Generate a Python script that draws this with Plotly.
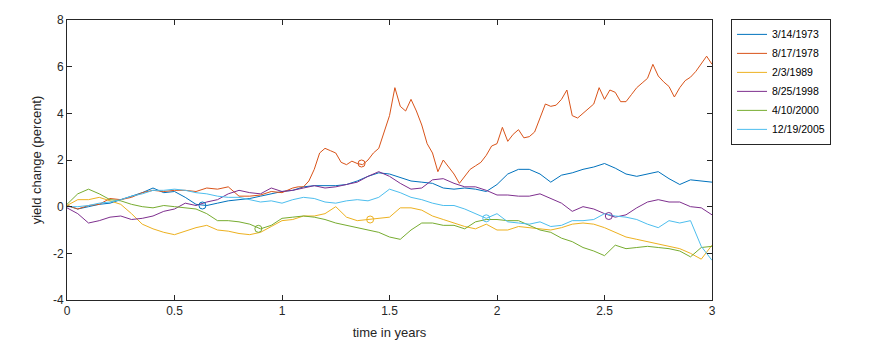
import plotly.graph_objects as go

# time grid (years)
t = [round(0.05 * i, 3) for i in range(61)]
t_1978 = [round(0.05 * i, 3) for i in range(21)] + [round(1 + 0.025 * i, 3) for i in range(1, 81)]

names = ["3/14/1973", "8/17/1978", "2/3/1989", "8/25/1998", "4/10/2000", "12/19/2005"]
colors = ["#0072BD", "#D95319", "#EDB120", "#7E2F8E", "#77AC30", "#4DBEEE"]

y_1973 = [0.05, -0.1, 0.0, 0.1, 0.15, 0.3, 0.45, 0.6, 0.8, 0.6, 0.65,
          0.4, 0.1, 0.05, 0.15, 0.25, 0.3, 0.35, 0.45, 0.55, 0.65,
          0.7, 0.85, 0.9, 0.9, 0.9, 0.95, 1.1, 1.3, 1.45, 1.4,
          1.25, 1.1, 1.05, 1.0, 0.8, 0.75, 0.8, 0.75, 0.65, 0.95,
          1.4, 1.6, 1.6, 1.4, 1.05, 1.35, 1.45, 1.6, 1.7, 1.85,
          1.65, 1.4, 1.3, 1.4, 1.5, 1.2, 0.95, 1.15, 1.1, 1.05]
y_1978 = [0.05, -0.1, 0.05, 0.1, 0.35, 0.3, 0.4, 0.6, 0.7, 0.65, 0.7,
          0.7, 0.65, 0.8, 0.75, 0.85, 0.45, 0.45, 0.5, 0.65, 0.6,
          0.7, 0.8, 0.85, 0.85, 1.1, 1.6, 2.3, 2.5, 2.4, 2.3,
          1.9, 1.8, 1.95, 1.85, 1.8, 2.0, 2.3, 2.5, 3.2, 3.9,
          5.1, 4.3, 4.1, 4.6, 4.1, 3.5, 2.7, 2.3, 1.5, 2.0,
          1.7, 1.4, 1.0, 1.3, 1.6, 1.75, 1.9, 2.2, 2.6, 2.7,
          3.4, 2.8, 3.1, 3.3, 2.95, 3.0, 3.2, 3.8, 4.4, 4.3,
          4.35, 4.6, 5.0, 3.9, 3.8, 4.0, 4.2, 4.4, 5.1, 4.6,
          5.0, 4.9, 4.5, 4.5, 4.8, 5.1, 5.3, 5.5, 6.1, 5.6,
          5.35, 5.15, 4.7, 5.1, 5.4, 5.55, 5.8, 6.1, 6.45, 6.1]
y_1989 = [0.05, 0.3, 0.3, 0.4, 0.25, 0.1, -0.3, -0.75, -0.95, -1.1, -1.2,
          -1.05, -0.9, -0.8, -1.0, -1.05, -1.15, -1.2, -1.1, -0.85, -0.6,
          -0.55, -0.4, -0.4, -0.3, 0.0, -0.45, -0.6, -0.55, -0.5, -0.45,
          -0.05, -0.05, -0.15, -0.4, -0.55, -0.7, -0.85, -0.95, -0.75, -1.0,
          -1.0, -0.85, -0.9, -0.95, -1.0, -0.9, -0.75, -0.7, -0.75, -0.9,
          -1.1, -1.3, -1.4, -1.5, -1.6, -1.7, -1.8, -2.0, -2.25, -1.65]
y_1998 = [-0.05, -0.3, -0.7, -0.6, -0.45, -0.4, -0.55, -0.5, -0.4, -0.2, -0.1,
          0.15, 0.05, 0.2, 0.3, 0.55, 0.7, 0.6, 0.55, 0.8, 0.65,
          0.7, 0.8, 0.9, 0.8, 0.85, 0.95, 1.05, 1.3, 1.5, 1.3,
          1.0, 0.75, 0.8, 1.15, 1.2, 1.0, 0.85, 0.85, 0.7, 0.5,
          0.5, 0.45, 0.45, 0.55, 0.35, 0.15, -0.2, 0.0, -0.1, -0.3,
          -0.45, -0.35, -0.05, 0.2, 0.3, 0.2, 0.2, 0.0, -0.05, -0.35]
y_2000 = [0.1, 0.55, 0.75, 0.55, 0.3, 0.25, 0.1, 0.0, -0.05, 0.05, 0.0,
          -0.05, -0.1, -0.3, -0.6, -0.6, -0.65, -0.75, -0.95, -0.8, -0.5,
          -0.45, -0.4, -0.45, -0.55, -0.7, -0.8, -0.9, -1.0, -1.1, -1.3,
          -1.4, -1.0, -0.7, -0.7, -0.8, -0.8, -0.95, -0.65, -0.55, -0.55,
          -0.6, -0.6, -0.8, -1.0, -1.1, -1.35, -1.5, -1.75, -1.9, -2.1,
          -1.65, -1.8, -1.75, -1.7, -1.75, -1.8, -1.9, -2.15, -1.75, -1.7]
y_2005 = [0.0, 0.0, 0.05, 0.15, 0.2, 0.3, 0.45, 0.55, 0.7, 0.7, 0.75,
          0.7, 0.6, 0.55, 0.45, 0.4, 0.4, 0.3, 0.2, 0.25, 0.15,
          0.3, 0.4, 0.35, 0.2, 0.15, 0.25, 0.3, 0.25, 0.4, 0.75,
          0.6, 0.4, 0.3, 0.15, 0.05, 0.05, -0.1, -0.3, -0.5, -0.3,
          -0.65, -0.7, -0.75, -0.65, -0.85, -0.8, -0.6, -0.6, -0.55, -0.3,
          -0.4, -0.45, -0.55, -0.75, -0.9, -0.6, -0.7, -0.6, -1.7, -2.3]

series_x = [t, t_1978, t, t, t, t]
series_y = [y_1973, y_1978, y_1989, y_1998, y_2000, y_2005]

# small open-circle markers on each path
mark_t = [0.63, 1.37, 1.41, 2.52, 0.89, 1.95]
mark_y = [0.05, 1.85, -0.55, -0.4, -0.95, -0.5]

x_ticks = [0, 0.5, 1, 1.5, 2, 2.5, 3]
y_ticks = [-4, -2, 0, 2, 4, 6, 8]

fig = go.Figure()
for name, col, xs, ys in zip(names, colors, series_x, series_y):
    fig.add_trace(go.Scatter(x=xs, y=ys, mode="lines", name=name,
                             line=dict(color=col, width=1)))
for col, mx, my in zip(colors, mark_t, mark_y):
    fig.add_trace(go.Scatter(x=[mx], y=[my], mode="markers", showlegend=False,
                             marker=dict(symbol="circle-open", size=7, color=col,
                                         line=dict(width=1, color=col))))

axis_common = dict(showline=True, linecolor="#262626", linewidth=1, mirror="ticks",
                   ticks="inside", ticklen=5, tickcolor="#262626", showgrid=False,
                   zeroline=False, automargin=False, tickfont=dict(size=12, color="#262626"))

# the page body adds an 8px offset, so the figure is 8px smaller and margins shifted
fig.update_layout(
    width=862, height=340,
    margin=dict(l=59, r=158, t=12, b=48, autoexpand=False),
    paper_bgcolor="white", plot_bgcolor="white",
    font=dict(family="Liberation Sans, Arial, sans-serif", color="#262626"),
    xaxis=dict(range=[0, 3], tickvals=x_ticks, ticktext=[str(v) for v in x_ticks],
               title=dict(text="time in years", font=dict(size=13), standoff=10), **axis_common),
    yaxis=dict(range=[-4, 8], tickvals=y_ticks, ticktext=[str(v) for v in y_ticks],
               title=dict(text="yield change (percent)", font=dict(size=13), standoff=8), **axis_common),
    legend=dict(x=1.0295, y=1.004, xanchor="left", yanchor="top",
                bordercolor="#262626", borderwidth=1, bgcolor="white",
                font=dict(size=10.5, color="#000000"), tracegroupgap=0),
    showlegend=True,
)

fig.write_html("out.html")
